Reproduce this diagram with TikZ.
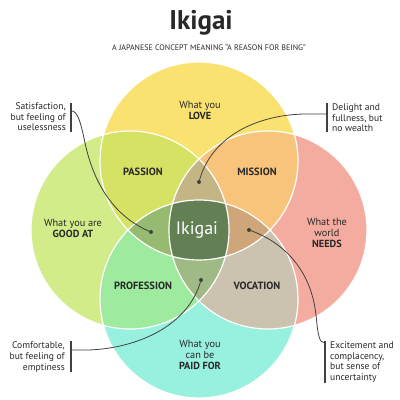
\documentclass[tikz,border=0pt]{standalone}
\usepackage{fontspec}
\setmainfont{PT Sans}
\usepackage{xcolor}
\definecolor{lovecol}{RGB}{250,226,112}
\definecolor{goodcol}{RGB}{210,236,138}
\definecolor{needcol}{RGB}{245,172,160}
\definecolor{paidcol}{RGB}{152,240,222}
\definecolor{passioncol}{RGB}{214,226,100}
\definecolor{missioncol}{RGB}{248,196,124}
\definecolor{professioncol}{RGB}{158,234,158}
\definecolor{vocationcol}{RGB}{204,194,176}
\definecolor{toplenscol}{RGB}{196,182,132}
\definecolor{leftlenscol}{RGB}{150,186,112}
\definecolor{rightlenscol}{RGB}{206,166,122}
\definecolor{bottomlenscol}{RGB}{160,186,134}
\definecolor{ikigaicol}{RGB}{98,128,84}
\definecolor{textgrey}{RGB}{40,40,40}
\definecolor{linegrey}{RGB}{65,65,65}
\newcommand{\ikrad}{99}

\tikzset{
  circletext/.style={align=center, text=textgrey, font=\fontsize{10.3}{11}\selectfont},
  regiontext/.style={text=textgrey, font=\bfseries\fontsize{10.5}{11}\selectfont},
  notetext/.style={text=textgrey, font=\fontsize{9.6}{10.6}\selectfont, inner sep=0pt},
  dot/.style={circle, fill=linegrey, inner sep=0pt, minimum size=4pt},
  bar/.style={draw=linegrey, line width=1.5pt},
  pointer/.style={draw=linegrey, line width=0.8pt}
}

\begin{document}
\begin{tikzpicture}[x=1pt,y=1pt]
  \useasboundingbox[fill=white] (-199,-170) rectangle (201,230);

  % circle centres
  \coordinate (T) at (0,69);
  \coordinate (L) at (-69,0);
  \coordinate (R) at (69,0);
  \coordinate (B) at (0,-69);

  % the four circles
  \fill[lovecol] (T) circle (\ikrad);
  \fill[goodcol] (L) circle (\ikrad);
  \fill[needcol] (R) circle (\ikrad);
  \fill[paidcol] (B) circle (\ikrad);

  % two-way overlaps
  \begin{scope}
    \clip (T) circle (\ikrad);
    \fill[passioncol] (L) circle (\ikrad);
    \fill[missioncol] (R) circle (\ikrad);
  \end{scope}
  \begin{scope}
    \clip (B) circle (\ikrad);
    \fill[professioncol] (L) circle (\ikrad);
    \fill[vocationcol] (R) circle (\ikrad);
  \end{scope}

  % three-way overlaps
  \begin{scope}
    \clip (T) circle (\ikrad);
    \clip (L) circle (\ikrad);
    \fill[toplenscol] (R) circle (\ikrad);
    \fill[leftlenscol] (B) circle (\ikrad);
  \end{scope}
  \begin{scope}
    \clip (B) circle (\ikrad);
    \clip (R) circle (\ikrad);
    \fill[bottomlenscol] (L) circle (\ikrad);
    \fill[rightlenscol] (T) circle (\ikrad);
  \end{scope}

  % centre
  \begin{scope}
    \clip (T) circle (\ikrad);
    \clip (L) circle (\ikrad);
    \clip (R) circle (\ikrad);
    \fill[ikigaicol] (B) circle (\ikrad);
  \end{scope}

  % white outlines
  \draw[white, line width=1.2pt] (T) circle (\ikrad);
  \draw[white, line width=1.2pt] (L) circle (\ikrad);
  \draw[white, line width=1.2pt] (R) circle (\ikrad);
  \draw[white, line width=1.2pt] (B) circle (\ikrad);

  % title
  \node[text=textgrey, font=\bfseries\fontsize{27}{30}\selectfont] (title) at (2,207) {Ikigai};
  \node[text=textgrey, font=\fontsize{8}{9}\selectfont] (subtitle) at (10,183)
    {A JAPANESE CONCEPT MEANING ``A REASON FOR BEING''};

  % circle texts
  \node[circletext] (love) at (1,120) {What you\\\textbf{LOVE}};
  \node[circletext] (good) at (-126,2) {What you are\\\textbf{GOOD AT}};
  \node[circletext] (needs) at (128,-3) {What the\\world\\\textbf{NEEDS}};
  \node[circletext] (paid) at (1,-125) {What you\\can be\\\textbf{PAID FOR}};

  % overlap texts
  \node[regiontext] (passion) at (-56,58) {PASSION};
  \node[regiontext] (mission) at (58,58) {MISSION};
  \node[regiontext] (profession) at (-56,-56) {PROFESSION};
  \node[regiontext] (vocation) at (58,-56) {VOCATION};
  \node[text=white, font=\fontsize{18}{20}\selectfont] (ikigai) at (-2,0) {Ikigai};

  % dots in the lenses
  \node[dot] (topdot) at (0,48) {};
  \node[dot] (leftdot) at (-48,-2) {};
  \node[dot] (rightdot) at (50,0) {};
  \node[dot] (bottomdot) at (2,-50) {};

  % side notes
  \node[notetext, anchor=east, align=right] (satnote) at (-133,113)
    {Satisfaction,\\but feeling of\\uselessness};
  \node[notetext, anchor=west, align=left] (delnote) at (133,112)
    {Delight and\\fullness, but\\no wealth};
  \node[notetext, anchor=east, align=right] (comnote) at (-134,-127)
    {Comfortable,\\but feeling of\\emptiness};
  \node[notetext, anchor=west, align=left] (excnote) at (131,-132)
    {Excitement and\\complacency,\\but sense of\\uncertainty};

  \draw[bar] (-128,127) -- (-128,98);
  \draw[bar] (128,127) -- (128,98);
  \draw[bar] (-128,-111) -- (-128,-142);
  \draw[bar] (126,-111) -- (126,-153);

  % connectors
  \coordinate (satend) at (-128,119);
  \coordinate (delend) at (128,116);
  \coordinate (comend) at (-128,-120);
  \coordinate (excend) at (126,-113);

  \draw[pointer] (satend) .. controls (-121,120) and (-118,105) .. (-115,92)
    .. controls (-108,55) and (-90,15) .. (leftdot.center);
  \draw[pointer] (delend) -- (105,116) .. controls (60,115) and (12,95) .. (topdot.center);
  \draw[pointer] (comend) -- (-110,-120) .. controls (-60,-118) and (-10,-95) .. (bottomdot.center);
  \draw[pointer] (rightdot.center) .. controls (85,-12) and (112,-40) .. (117,-85)
    .. controls (119,-105) and (120,-113) .. (excend);
\end{tikzpicture}
\end{document}
